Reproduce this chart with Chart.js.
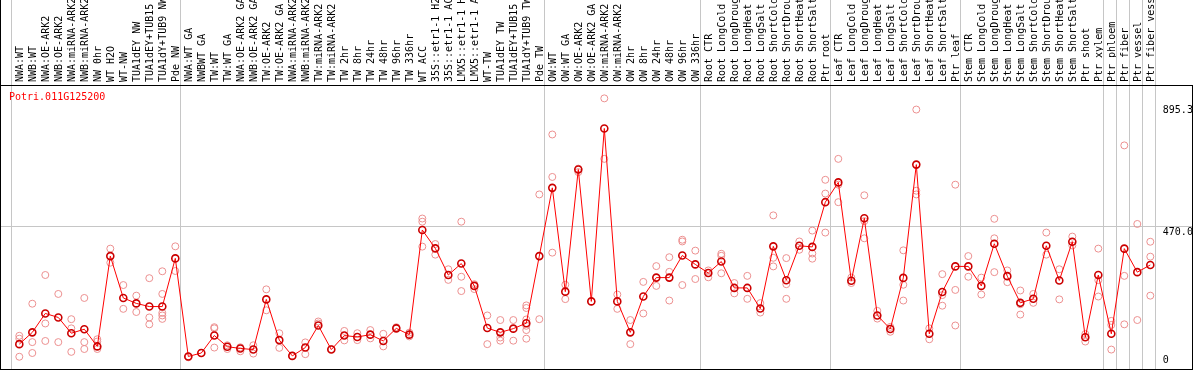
<!DOCTYPE html>
<html>
<head>
<meta charset="utf-8">
<script src="https://cdn.jsdelivr.net/npm/chart.js@4.4.1/dist/chart.umd.min.js"></script>
<style>
  html, body { margin: 0; padding: 0; background: #fff; }
  canvas { display: block; }
</style>
</head>
<body>
<canvas id="chart" width="1194" height="370"></canvas>
<script>
// ── Data ──────────────────────────────────────────────────────────────────────

const GENE = 'Potri.011G125200';

const labels = [
  'NWA:WT', 'NWB:WT', 'NWA:OE-ARK2', 'NWB:OE-ARK2', 'NWA:miRNA-ARK2', 'NWB:miRNA-ARK2',
  'NW 0hr', 'WT H2O', 'WT-NW', 'TUA1dEY NW', 'TUA1dEY+TUB15 NW', 'TUA1dY+TUB9 NW', 'Pde NW',
  'NWA:WT GA', 'NWBWT GA', 'TW:WT', 'TW:WT GA', 'NWA:OE-ARK2 GA', 'NWB:OE-ARK2 GA',
  'TW:OE-ARK2', 'TW:OE-ARK2 GA', 'NWA:miRNA-ARK2 GA', 'NWB:miRNA-ARK2 GA', 'TW:miRNA-ARK2',
  'TW:miRNA-ARK2', 'TW 2hr', 'TW 8hr', 'TW 24hr', 'TW 48hr', 'TW 96hr', 'TW 336hr', 'WT ACC',
  '35S::etr1-1 H2O', '35S::etr1-1 ACC', 'LMX5::etr1-1 H2O', 'LMX5::etr1-1 ACC', 'WT-TW',
  'TUA1dEY TW', 'TUA1dEY+TUB15 TW', 'TUA1dY+TUB9 TW', 'Pde TW',
  'OW:WT', 'OW:WT GA', 'OW:OE-ARK2', 'OW:OE-ARK2 GA', 'OW:miRNA-ARK2', 'OW:miRNA-ARK2',
  'OW 2hr', 'OW 8hr', 'OW 24hr', 'OW 48hr', 'OW 96hr', 'OW 336hr',
  'Root CTR', 'Root LongCold', 'Root LongDrought', 'Root LongHeat', 'Root LongSalt',
  'Root ShortCold', 'Root ShortDrought', 'Root ShortHeat', 'Root ShortSalt', 'Ptr root',
  'Leaf CTR', 'Leaf LongCold', 'Leaf LongDrought', 'Leaf LongHeat', 'Leaf LongSalt',
  'Leaf ShortCold', 'Leaf ShortDrought', 'Leaf ShortHeat', 'Leaf ShortSalt', 'Ptr leaf',
  'Stem CTR', 'Stem LongCold', 'Stem LongDrought', 'Stem LongHeat', 'Stem LongSalt',
  'Stem ShortCold', 'Stem ShortDrought', 'Stem ShortHeat', 'Stem ShortSalt', 'Ptr shoot',
  'Ptr xylem', 'Ptr phloem', 'Ptr fiber', 'Ptr vessel', 'Ptr fiber vessel',
];

// mean expression per sample (the connected line)
const means = [
  58, 99, 165, 151, 96, 110, 50, 365, 219, 200, 189, 189, 357,
  15, 27, 88, 49, 43, 39, 214, 72, 17, 46, 123, 39, 88, 83, 91, 69, 113, 91,
  456, 392, 299, 339, 261, 114, 99, 112, 131, 365,
  603, 241, 667, 207, 810, 207, 99, 224, 290, 290, 367, 336,
  306, 346, 254, 254, 182, 399, 281, 401, 397, 553,
  622, 279, 497, 158, 111, 289, 684, 94, 240, 329,
  329, 261, 408, 295, 202, 216, 401, 280, 415, 82, 299,
  94, 391, 309, 334,
];

// individual replicates per sample
const reps = [
  [87, 77, 14], [199, 65, 27], [299, 130, 69], [233, 65], [145, 113, 31], [219, 65, 41],
  [75, 67, 41], [391, 342], [264, 181], [227, 170], [288, 151, 127], [312, 233, 167, 158, 146],
  [399, 313],
  [15, 12], [27], [117, 113, 46], [54, 41], [47, 33], [54, 25], [249, 176], [96, 45], [17],
  [64, 23], [137, 130], [41], [104, 71], [96, 72], [107, 78], [94, 50], [117], [98, 85],
  [496, 485, 398], [407, 370], [319, 282], [485, 293, 243], [267, 250], [158, 58],
  [142, 81, 70], [142, 70], [193, 184, 144, 122, 107, 77], [580, 145],
  [789, 641, 377], [265, 215], [670, 658], [207], [915, 704], [231, 181], [142, 58],
  [275, 165], [330, 261], [361, 310, 210], [422, 416, 264], [384, 285],
  [315, 291], [373, 366, 305], [271, 235], [296, 216], [201, 168], [507, 359, 329],
  [358, 267, 216], [416, 387], [454, 374, 356], [631, 583, 447],
  [704, 614, 553], [290, 271], [577, 487, 427], [174, 147], [118, 101], [385, 265, 210],
  [876, 593, 580], [113, 75], [302, 229, 192], [614, 247, 123],
  [365, 293], [290, 231], [495, 427, 309], [315, 274], [245, 197, 161], [233, 202],
  [447, 370], [319, 214], [433, 402], [93, 67], [391, 281, 224],
  [139, 125, 39], [751, 296, 127], [477, 142], [415, 363, 227],
];

// sample index after which a group separator is drawn
const groupEnds = [-1, 12, 40, 52, 62, 72, 83, 84, 85, 86, 87];

// right-hand axis ticks
const yTicks = [0, 470, 895.3];

// ── Build datasets ────────────────────────────────────────────────────────────

const meanPoints = means.map((v, i) => ({ x: i, y: v }));
const repPoints = [];
reps.forEach((list, i) => list.forEach((v) => repPoints.push({ x: i, y: v })));

const MONO = 'DejaVu Sans Mono';

// grid lines, frame and gene name
const framePlugin = {
  id: 'frame',
  beforeDatasetsDraw(chart) {
    const { ctx } = chart;
    const xs = chart.scales.x;
    const ys = chart.scales.y;
    ctx.save();
    ctx.fillStyle = '#c6c6c6';
    groupEnds.forEach((g) => {
      const px = Math.round(xs.getPixelForValue(g + 0.385));
      ctx.fillRect(px, 0, 1, 369);
    });
    const py = Math.round(ys.getPixelForValue(470));
    ctx.fillRect(1, py, 1191, 1);
    ctx.restore();
  },
  afterDraw(chart) {
    const { ctx } = chart;
    ctx.save();
    ctx.fillStyle = '#000';
    ctx.fillRect(0, 0, 1, 370);
    ctx.fillRect(0, 85, 1193, 1);
    ctx.fillRect(0, 369, 1193, 1);
    ctx.fillRect(1192, 85, 1, 285);
    ctx.fillStyle = '#ff0000';
    ctx.font = `10px "${MONO}"`;
    ctx.textBaseline = 'top';
    ctx.fillText(GENE, 9, 92);
    ctx.restore();
  },
};

new Chart(document.getElementById('chart'), {
  type: 'scatter',
  data: {
    datasets: [
      {
        type: 'line',
        data: meanPoints,
        borderColor: '#ff0000',
        borderWidth: 1,
        tension: 0,
        fill: false,
        pointRadius: 3.5,
        pointBorderWidth: 1.6,
        pointBorderColor: '#cc0000',
        pointBackgroundColor: 'rgba(0,0,0,0)',
      },
      {
        data: repPoints,
        showLine: false,
        pointRadius: 3.5,
        pointBorderWidth: 1,
        pointBorderColor: '#ec9090',
        pointBackgroundColor: 'rgba(0,0,0,0)',
      },
    ],
  },
  options: {
    responsive: false,
    animation: false,
    devicePixelRatio: 1,
    layout: { padding: { left: 12.8, right: 0, top: 0, bottom: 1 } },
    plugins: {
      legend: { display: false },
      tooltip: { enabled: false },
    },
    scales: {
      x: {
        type: 'linear',
        position: 'top',
        min: -0.5,
        max: 87.5,
        afterBuildTicks: (s) => { s.ticks = labels.map((_, i) => ({ value: i })); },
        afterFit: (s) => { s.height = 85; s.paddingLeft = 0; s.paddingRight = 0; },
        grid: { display: false, drawTicks: false },
        border: { display: false },
        ticks: {
          autoSkip: false,
          minRotation: 90,
          maxRotation: 90,
          padding: 3,
          labelOffset: 13,
          color: '#000',
          font: { family: MONO, size: 10 },
          callback: (v, i) => labels[i],
        },
      },
      y: {
        type: 'linear',
        position: 'right',
        min: -12.7,
        max: 961.6,
        afterBuildTicks: (s) => { s.ticks = yTicks.map((v) => ({ value: v })); },
        afterFit: (s) => { s.width = 37.2; s.paddingTop = 0; s.paddingBottom = 0; },
        grid: { display: false, drawTicks: false },
        border: { display: false },
        ticks: {
          padding: 6,
          color: '#000',
          font: { family: MONO, size: 10, lineHeight: 1.2 },
          callback: (v) => (v === 0 ? '0' : ['', v.toFixed(1)]),
        },
      },
    },
  },
  plugins: [framePlugin],
});
</script>
</body>
</html>
